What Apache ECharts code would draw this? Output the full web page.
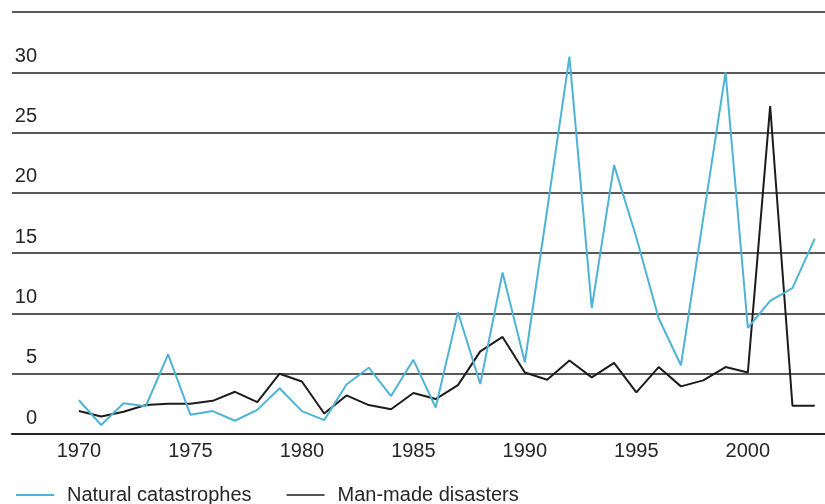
<!DOCTYPE html>
<html>
<head>
<meta charset="utf-8">
<script src="https://cdn.jsdelivr.net/npm/echarts@6/dist/echarts.min.js"></script>
<style>
  html, body { margin: 0; padding: 0; background: #fff; }
  #chart { width: 825px; height: 504px; }
</style>
</head>
<body>
<div id="chart"></div>
<script>
// years 1970 - 2003
const years = []
for (let y = 1970; y <= 2003; y++) years.push(y)

// values
const natural = [2.8, 0.75, 2.55, 2.3, 6.6, 1.6, 1.9, 1.1, 2.0, 3.8,
  1.9, 1.15, 4.1, 5.5, 3.15, 6.15, 2.2, 10.1, 4.15, 13.4,
  5.95, 18.6, 31.3, 10.45, 22.3, 16.3, 9.6, 5.7, 17.9, 30.0,
  8.8, 11.05, 12.1, 16.2]
const manMade = [1.9, 1.45, 1.85, 2.4, 2.5, 2.5, 2.75, 3.5, 2.65, 5.0,
  4.35, 1.7, 3.2, 2.4, 2.05, 3.4, 2.9, 4.05, 6.85, 8.05,
  5.1, 4.5, 6.1, 4.7, 5.9, 3.45, 5.55, 3.95, 4.45, 5.55,
  5.1, 27.2, 2.35, 2.35]

const seriesNames = ['Natural catastrophes', 'Man-made disasters']
const yTicks = [0, 5, 10, 15, 20, 25, 30]

const textColor = '#262626'
const font = 'Liberation Sans'

const chart = echarts.init(document.getElementById('chart'))

const pairs = (vals) => years.map((y, i) => [y, vals[i]])

chart.setOption({
  animation: false,
  grid: { left: 12, right: 0, top: 12, bottom: 70, containLabel: false },
  xAxis: {
    type: 'value',
    min: 1967,
    max: 2003.46,
    interval: 1,
    axisLine: { show: true, lineStyle: { color: '#222', width: 2 } },
    axisTick: { show: false },
    splitLine: { show: false },
    axisLabel: {
      color: textColor,
      fontFamily: font,
      fontSize: 20,
      margin: 7,
      showMinLabel: false,
      showMaxLabel: false,
      formatter: (v) => (v % 5 === 0 ? String(v) : '')
    }
  },
  yAxis: {
    type: 'value',
    min: 0,
    max: 35,
    interval: 5,
    axisLine: { show: false },
    axisTick: { show: false },
    splitLine: { show: true, lineStyle: { color: '#222', width: 1.5 } },
    axisLabel: {
      inside: true,
      align: 'right',
      margin: 25,
      verticalAlign: 'bottom',
      padding: [0, 0, 6, 0],
      color: textColor,
      fontFamily: font,
      fontSize: 20,
      formatter: (v) => (yTicks.includes(v) ? String(v) : '')
    }
  },
  legend: {
    left: 11,
    top: 480,
    icon: 'rect',
    itemWidth: 38,
    itemHeight: 2,
    itemGap: 35,
    data: seriesNames,
    textStyle: {
      color: textColor,
      fontFamily: font,
      fontSize: 20,
      padding: [0, 0, 0, 8]
    }
  },
  series: [
    {
      name: seriesNames[1],
      type: 'line',
      data: pairs(manMade),
      showSymbol: false,
      symbol: 'none',
      lineStyle: { color: '#1c1c1c', width: 2 },
      itemStyle: { color: '#555' },
      z: 3
    },
    {
      name: seriesNames[0],
      type: 'line',
      data: pairs(natural),
      showSymbol: false,
      symbol: 'none',
      lineStyle: { color: '#4fb4d4', width: 2 },
      itemStyle: { color: '#4fb4d4' },
      z: 4
    }
  ]
})
</script>
</body>
</html>
